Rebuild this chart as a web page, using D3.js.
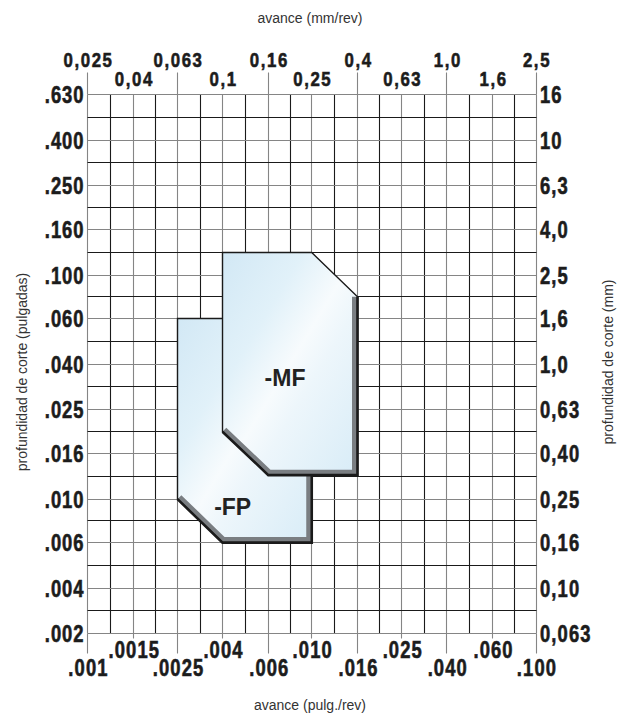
<!DOCTYPE html>
<html>
<head>
<meta charset="utf-8">
<script src="https://cdn.jsdelivr.net/npm/d3@7"></script>
<style>
  html, body { margin: 0; padding: 0; background: #fff; }
  svg { display: block; }
  .tick-lbl { font-family: "Liberation Sans", Arial, sans-serif; font-weight: bold; fill: #1c1c1c; stroke: #1c1c1c; stroke-width: 0.6px; }
  .title { font-family: "Liberation Sans", Arial, sans-serif; font-size: 14px; fill: #333; }
  .shape-lbl { font-family: "Liberation Sans", Arial, sans-serif; font-weight: bold; font-size: 23px; fill: #222; }
</style>
</head>
<body>
<svg id="chart" width="620" height="718"></svg>
<script>
// ---- data ----
const feedMm        = [0.025, 0.04, 0.063, 0.1, 0.16, 0.25, 0.4, 0.63, 1.0, 1.6, 2.5];
const feedMmLabels  = ["0,025", "0,04", "0,063", "0,1", "0,16", "0,25", "0,4", "0,63", "1,0", "1,6", "2,5"];
const feedInLabels  = [".001", ".0015", ".0025", ".004", ".006", ".010", ".016", ".025", ".040", ".060", ".100"];
const depthMm       = [0.063, 0.10, 0.16, 0.25, 0.40, 0.63, 1.0, 1.6, 2.5, 4.0, 6.3, 10, 16];
const depthMmLabels = ["0,063", "0,10", "0,16", "0,25", "0,40", "0,63", "1,0", "1,6", "2,5", "4,0", "6,3", "10", "16"];
const depthInLabels = [".002", ".004", ".006", ".010", ".016", ".025", ".040", ".060", ".100", ".160", ".250", ".400", ".630"];

// chipbreaker areas (feed mm/rev, depth mm)
const mfFeed  = [0.1, 0.25, 0.4, 0.4, 0.16, 0.1];
const mfDepth = [3.15, 3.15, 2.0, 0.32, 0.32, 0.5];
const fpFeed  = [0.063, 0.25, 0.25, 0.1, 0.063];
const fpDepth = [1.6, 1.6, 0.16, 0.16, 0.25];
const areaNames = ["-FP", "-MF"];
const areaLabelFeed  = [0.111, 0.19];
const areaLabelDepth = [0.212, 0.8];

// ---- layout ----
const svg = d3.select("#chart");
const L = 87.5, R = 536, T = 94.4, B = 633.3;
const x = d3.scaleLog().domain([feedMm[0], feedMm[feedMm.length - 1]]).range([L, R]);
const y = d3.scaleLog().domain([depthMm[0], depthMm[depthMm.length - 1]]).range([B, T]);
const px = v => Math.round(v - 0.5) + 0.5;

const withMids = a => a.flatMap((v, i) => i < a.length - 1 ? [v, Math.sqrt(v * a[i + 1])] : [v]);
const gridFeed = withMids(feedMm);
const gridDepth = withMids(depthMm);

const GRAY = "#858585", DARK = "#1a1a1a";
const SX = 0.8; // horizontal condensing of the tick font

const defs = svg.append("defs");
const grad = defs.append("linearGradient").attr("id", "fillGrad")
  .attr("x1", 0).attr("y1", 0).attr("x2", 1).attr("y2", 1);
[[0, "#d2e8f5"], [0.3, "#e1f1f9"], [0.5, "#f7fbfd"], [0.62, "#edf6fb"], [1, "#d8ecf7"]]
  .forEach(([o, c]) => grad.append("stop").attr("offset", o).attr("stop-color", c));

// grid
const g = svg.append("g");
g.selectAll("line.v").data(gridFeed).join("line").attr("class", "v")
  .attr("x1", d => px(x(d))).attr("x2", d => px(x(d))).attr("y1", px(T)).attr("y2", px(B))
  .attr("stroke", (d, i) => i % 2 === 0 ? GRAY : DARK).attr("stroke-width", 1.1);
g.selectAll("line.h").data(gridDepth).join("line").attr("class", "h")
  .attr("y1", d => px(y(d))).attr("y2", d => px(y(d))).attr("x1", px(L)).attr("x2", px(R))
  .attr("stroke", (d, i) => i % 2 === 0 ? GRAY : DARK).attr("stroke-width", 1.1);

// top ticks (every other labelled value)
g.selectAll("line.tt").data(feedMm.filter((d, i) => i % 2 === 0)).join("line").attr("class", "tt")
  .attr("x1", d => px(x(d))).attr("x2", d => px(x(d))).attr("y1", px(T)).attr("y2", px(T) - 22)
  .attr("stroke", GRAY).attr("stroke-width", 1.1);
// bottom ticks
g.selectAll("line.bt").data(feedMm).join("line").attr("class", "bt")
  .attr("x1", d => px(x(d))).attr("x2", d => px(x(d))).attr("y1", px(B))
  .attr("y2", (d, i) => px(B) + (i % 2 === 0 ? 20 : 5))
  .attr("stroke", GRAY).attr("stroke-width", 1.1);

// tick labels (condensed bold)
function labels(cls, data, fx, fy, anchor, size, ls, textFn) {
  svg.append("g").selectAll("text." + cls).data(data).join("text")
    .attr("class", "tick-lbl " + cls)
    .attr("transform", (d, i) => `translate(${fx(d, i)},${fy(d, i)}) scale(${SX},1)`)
    .attr("text-anchor", anchor).style("font-size", size + "px").style("letter-spacing", ls + "px")
    .text(textFn);
}
labels("top", feedMm, d => x(d) + 1, (d, i) => i % 2 === 0 ? 67 : 86, "middle", 21, 2, (d, i) => feedMmLabels[i]);
labels("bot", feedMm, d => x(d) + 1, (d, i) => i % 2 === 0 ? 676 : 658, "middle", 23, 1.4, (d, i) => feedInLabels[i]);
labels("left", depthMm, () => L - 3, d => y(d) + 8.5, "end", 23, 1.2, (d, i) => depthInLabels[i]);
labels("right", depthMm, () => R + 4, d => y(d) + 8.5, "start", 23, 1.4, (d, i) => depthMmLabels[i]);

// axis titles
svg.append("text").attr("class", "title").attr("x", 310).attr("y", 23).attr("text-anchor", "middle").text("avance (mm/rev)");
svg.append("text").attr("class", "title").attr("x", 310).attr("y", 710).attr("text-anchor", "middle").text("avance (pulg./rev)");
svg.append("text").attr("class", "title").attr("text-anchor", "middle")
  .attr("transform", "translate(27,372) rotate(-90)").text("profundidad de corte (pulgadas)");
svg.append("text").attr("class", "title").attr("text-anchor", "middle")
  .attr("transform", "translate(613,362) rotate(-90)").text("profundidad de corte (mm)");

// areas
function drawArea(feeds, depths, shadowIdx, id) {
  const pts = feeds.map((f, i) => [x(f), y(depths[i])]);
  const line = d3.line();
  const poly = line(pts) + "Z";
  defs.append("clipPath").attr("id", "clip-" + id).append("path").attr("d", poly);
  const grp = svg.append("g");
  grp.append("path").attr("d", poly).attr("fill", "url(#fillGrad)");
  const sh = line(shadowIdx.map(i => pts[i]));
  grp.append("path").attr("d", sh).attr("fill", "none")
    .attr("stroke", "#7a7e82").attr("stroke-width", 11).attr("stroke-linejoin", "miter")
    .attr("clip-path", "url(#clip-" + id + ")");
  grp.append("path").attr("d", poly).attr("fill", "none").attr("stroke", DARK).attr("stroke-width", 1.4);
  grp.append("path").attr("d", sh).attr("fill", "none").attr("stroke", DARK).attr("stroke-width", 2.6)
    .attr("stroke-linejoin", "miter");
}
drawArea(fpFeed, fpDepth, [1, 2, 3, 4], "fp");
drawArea(mfFeed, mfDepth, [2, 3, 4, 5], "mf");

svg.append("g").selectAll("text").data(areaNames).join("text").attr("class", "shape-lbl")
  .attr("x", (d, i) => x(areaLabelFeed[i])).attr("y", (d, i) => y(areaLabelDepth[i]))
  .attr("text-anchor", "middle").text(d => d);
</script>
</body>
</html>
